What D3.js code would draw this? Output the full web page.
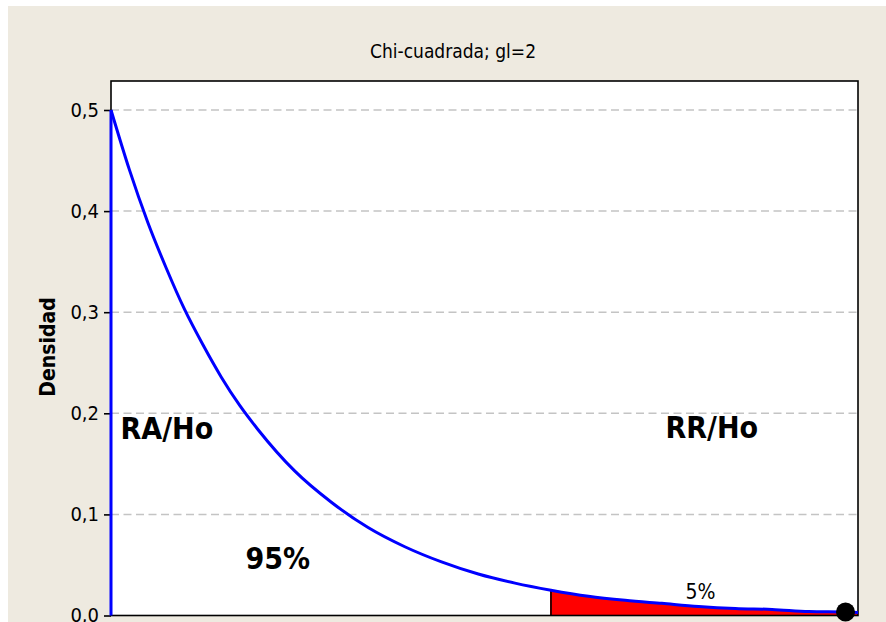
<!DOCTYPE html>
<html>
<head>
<meta charset="utf-8">
<script src="https://cdn.jsdelivr.net/npm/d3@7"></script>
<style>
  html, body { margin: 0; padding: 0; background: #fff; }
  svg { display: block; }
  text { font-family: Tahoma, "DejaVu Sans Condensed", "DejaVu Sans", sans-serif; fill: #000; }
</style>
</head>
<body>
<svg id="chart" width="886" height="622"></svg>
<script>
// ---- data ----
const title = "Chi-cuadrada; gl=2";
const yLabel = "Densidad";
const xValues = [0, 0.25, 0.5, 0.75, 1, 1.25, 1.5, 1.75, 2, 2.5, 3, 3.5, 4, 4.5, 5, 5.5, 5.99, 6.5, 7, 7.5, 8, 8.5, 9, 9.5, 10, 10.17];
const densityValues = [0.500, 0.441, 0.389, 0.344, 0.303, 0.268, 0.236, 0.208, 0.184, 0.143, 0.112, 0.087, 0.068, 0.053, 0.041, 0.032, 0.025, 0.019, 0.015, 0.012, 0.009, 0.007, 0.006, 0.004, 0.0034, 0.003];
const criticalValue = 5.99;
const markerX = 10;
const markerY = 0.0034;
const yTicks = [0.0, 0.1, 0.2, 0.3, 0.4, 0.5];
const yTickLabels = ["0,0", "0,1", "0,2", "0,3", "0,4", "0,5"];
const annotations = [
  { text: "RA/Ho", x: 0.13, y: 0.175, bold: true, size: 30 },
  { text: "RR/Ho", x: 7.55, y: 0.176, bold: true, size: 30 },
  { text: "95%", x: 1.83, y: 0.046, bold: true, size: 30 },
  { text: "5%", x: 7.82, y: 0.016, bold: false, size: 21 }
];

// ---- layout ----
const W = 886, H = 622;
const frame = { left: 111, right: 858, top: 81, bottom: 615.5 };
const svg = d3.select("#chart");

const x = d3.scaleLinear().domain([0, 10.17]).range([frame.left, frame.right]);
const y = d3.scaleLinear().domain([0, 0.5]).range([frame.bottom, 110]);

// backgrounds
svg.append("rect").attr("x", 0).attr("y", 0).attr("width", W).attr("height", H).attr("fill", "#ffffff");
svg.append("rect").attr("x", 8).attr("y", 6).attr("width", W - 8).attr("height", H - 6).attr("fill", "#EEEAE0");
svg.append("rect").attr("x", frame.left).attr("y", frame.top)
  .attr("width", frame.right - frame.left).attr("height", frame.bottom - frame.top).attr("fill", "#ffffff");

// gridlines
svg.append("g").selectAll("line").data(yTicks.filter(d => d > 0)).join("line")
  .attr("x1", frame.left).attr("x2", frame.right)
  .attr("y1", d => y(d)).attr("y2", d => y(d))
  .attr("stroke", "#C4C4C4").attr("stroke-width", 1.5).attr("stroke-dasharray", "8,4.5");

const pts = xValues.map((v, i) => [v, densityValues[i]]);
const tailPts = pts.filter(p => p[0] >= criticalValue);

// red tail area
const area = d3.area().x(d => x(d[0])).y0(y(0)).y1(d => y(d[1])).curve(d3.curveMonotoneX);
svg.append("path").datum(tailPts).attr("d", area).attr("fill", "#FF0000");
svg.append("line")
  .attr("x1", x(criticalValue)).attr("x2", x(criticalValue))
  .attr("y1", y(0)).attr("y2", y(tailPts[0][1]))
  .attr("stroke", "#3a0000").attr("stroke-width", 2);

// frame
svg.append("rect").attr("x", frame.left).attr("y", frame.top)
  .attr("width", frame.right - frame.left).attr("height", frame.bottom - frame.top)
  .attr("fill", "none").attr("stroke", "#000").attr("stroke-width", 1.6);

// y axis
const yAxis = d3.axisLeft(y).tickValues(yTicks).tickSize(7).tickPadding(5)
  .tickFormat((d, i) => yTickLabels[i]);
const gy = svg.append("g").attr("transform", `translate(${frame.left},0)`).call(yAxis);
gy.select(".domain").remove();
gy.selectAll(".tick line").attr("stroke", "#000").attr("stroke-width", 1.6);
gy.selectAll(".tick text").attr("font-size", 20)
  .attr("font-family", 'Tahoma, "DejaVu Sans Condensed", "DejaVu Sans", sans-serif').attr("fill", "#000");

// density curve
const line = d3.line().x(d => x(d[0])).y(d => y(d[1])).curve(d3.curveMonotoneX);
svg.append("line")
  .attr("x1", x(0)).attr("x2", x(0)).attr("y1", y(0)).attr("y2", y(densityValues[0]))
  .attr("stroke", "#0000FF").attr("stroke-width", 3);
svg.append("path").datum(pts).attr("d", line)
  .attr("fill", "none").attr("stroke", "#0000FF").attr("stroke-width", 3);

// marker
svg.append("circle").attr("cx", x(markerX)).attr("cy", y(markerY)).attr("r", 9.5).attr("fill", "#000");

// title
svg.append("text").attr("x", 453).attr("y", 58).attr("text-anchor", "middle")
  .attr("font-size", 19).text(title);

// y label
svg.append("text").attr("transform", "translate(55,347) rotate(-90)")
  .attr("text-anchor", "middle").attr("font-size", 21).attr("font-weight", "bold").text(yLabel);

// annotations
svg.append("g").selectAll("text").data(annotations).join("text")
  .attr("x", d => x(d.x)).attr("y", d => y(d.y))
  .attr("font-size", d => d.size).attr("font-weight", d => d.bold ? "bold" : "normal")
  .text(d => d.text);
</script>
</body>
</html>
